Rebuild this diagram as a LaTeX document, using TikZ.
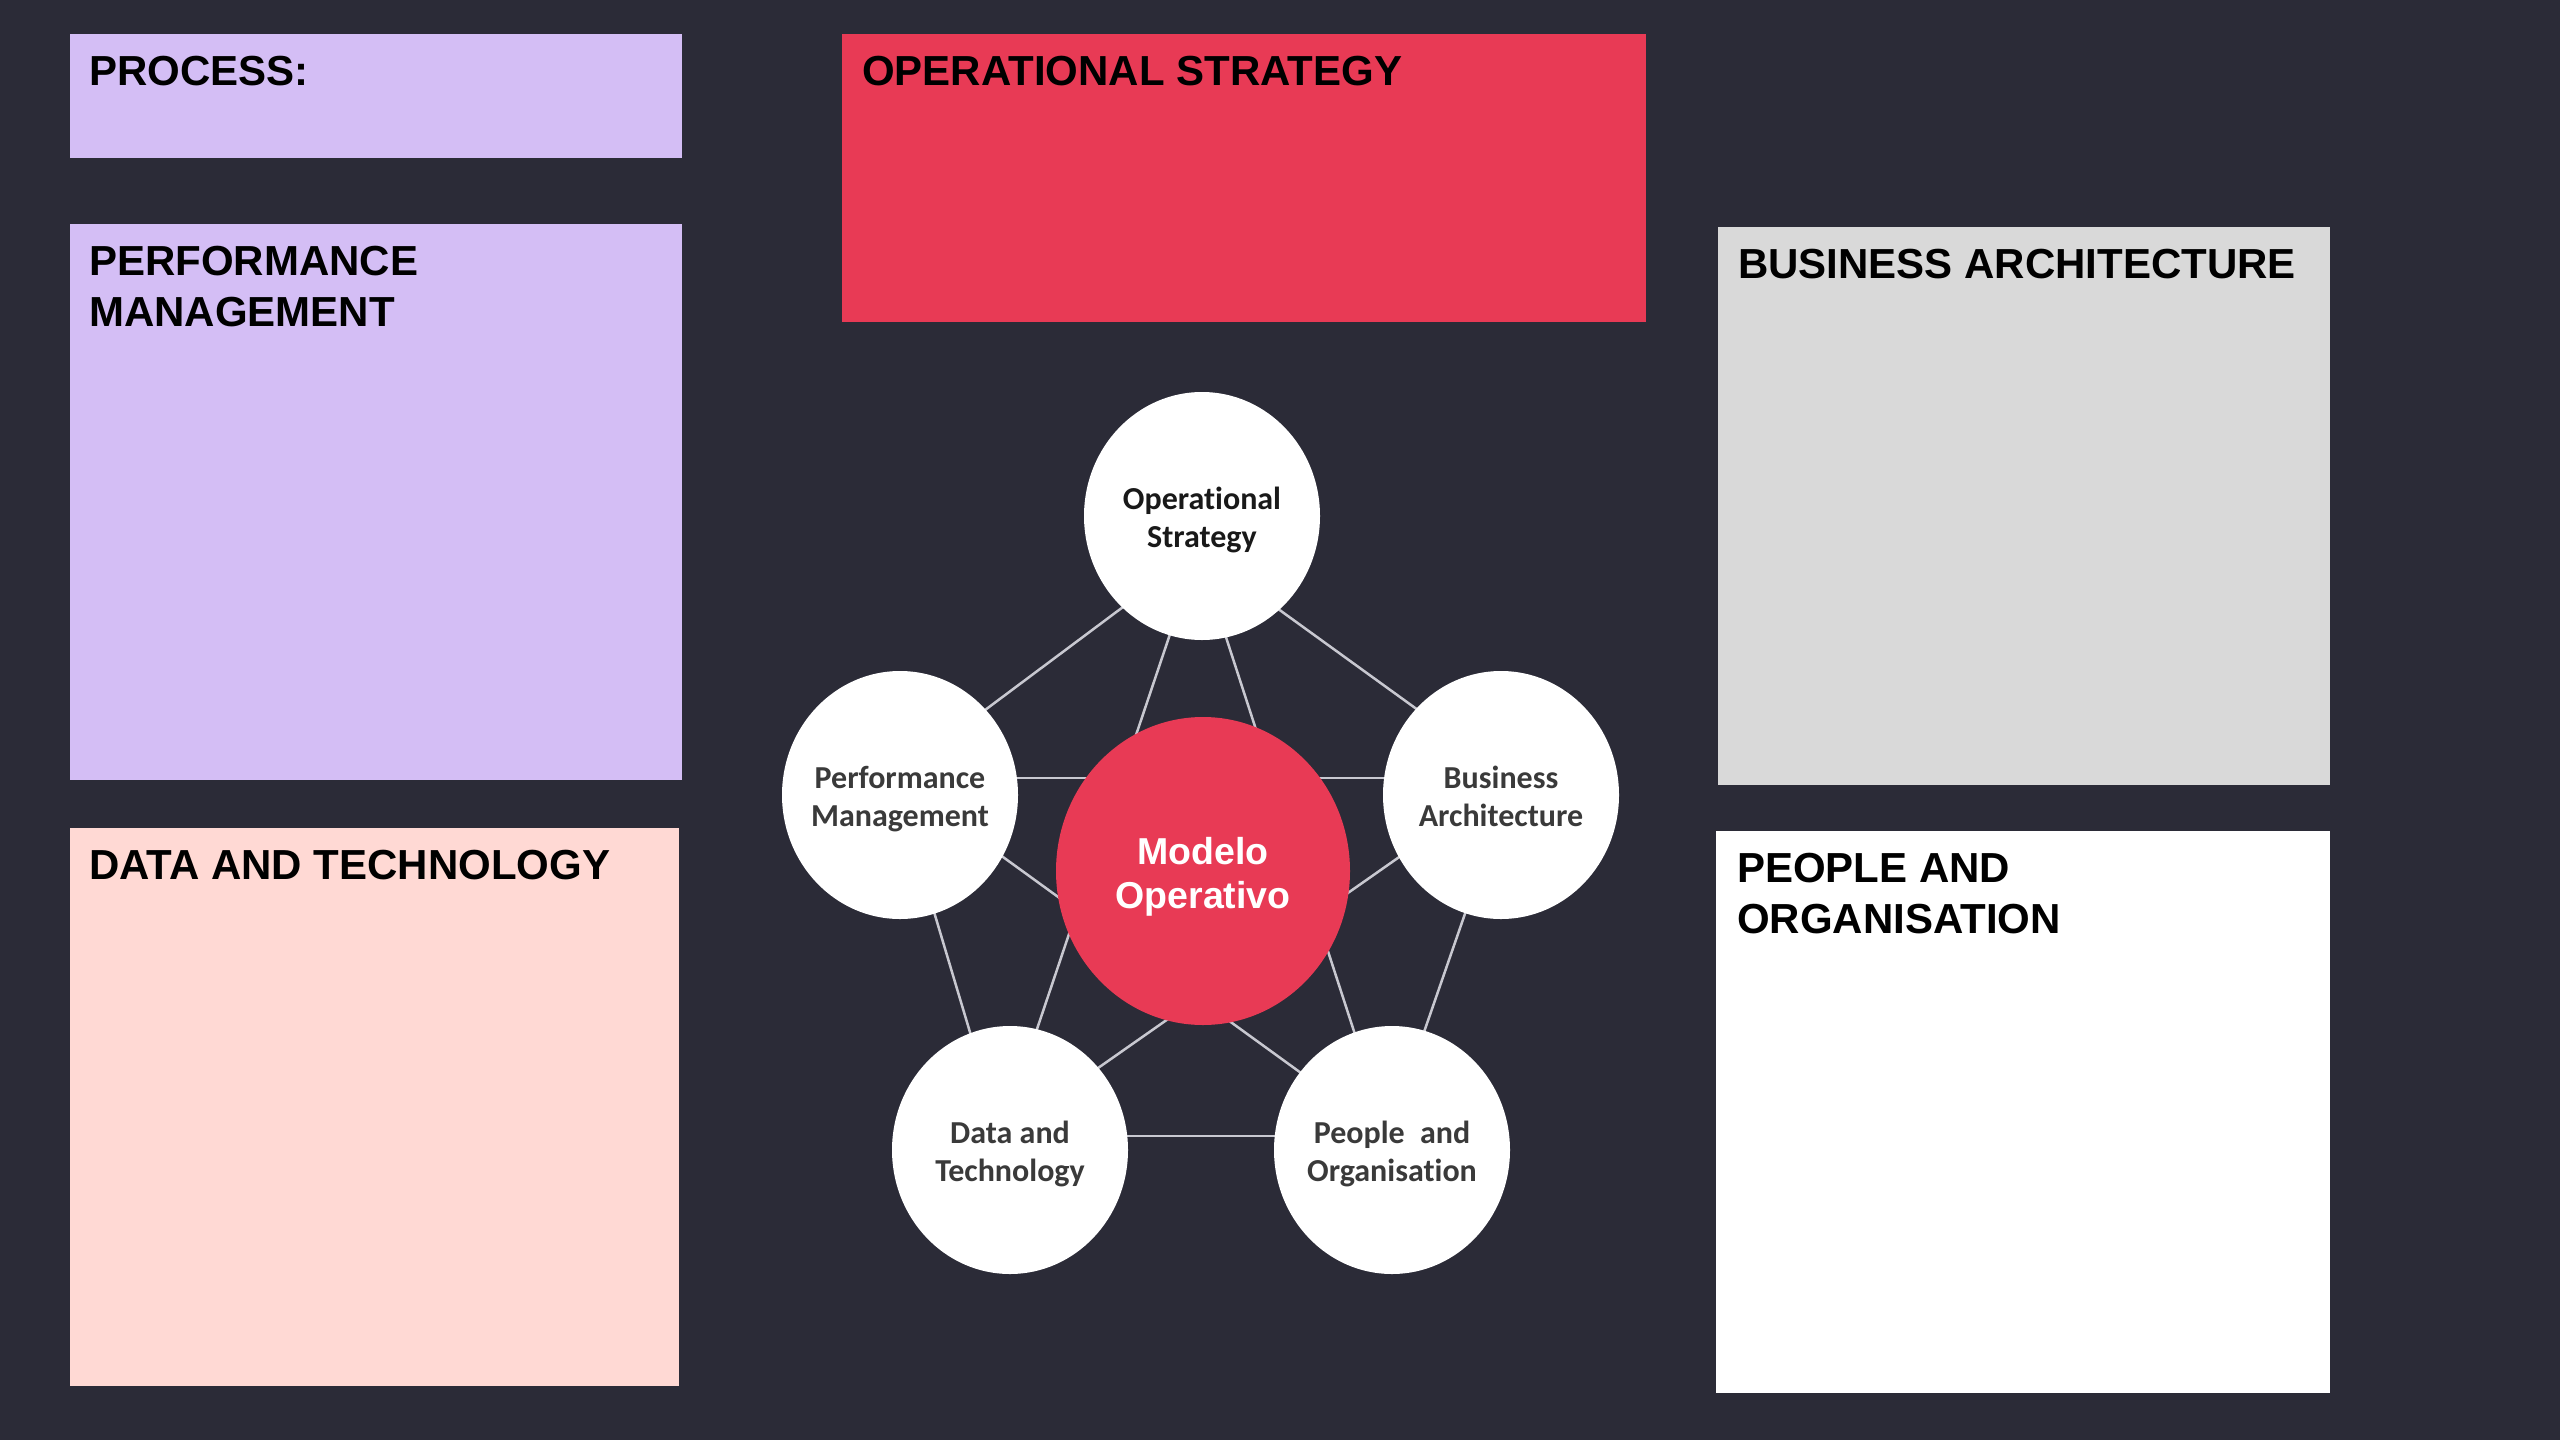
\documentclass[tikz,border=0pt]{standalone}
\usepackage{fontspec}
\usetikzlibrary{shapes.geometric}
\newfontfamily\headfont{Liberation Sans}[BoldFont={Liberation Sans Bold}]
\newfontfamily\circfont{Carlito}[BoldFont={Carlito Bold}, Ligatures={NoCommon}]
\definecolor{bgc}{HTML}{2B2B37}
\definecolor{redc}{HTML}{E83A55}
\definecolor{purc}{HTML}{D4BEF5}
\definecolor{pinkc}{HTML}{FFD9D4}
\definecolor{grayc}{HTML}{D9D9D9}
\definecolor{linec}{HTML}{C8C8D0}
\definecolor{txtdark}{HTML}{3A3A3A}
\newcommand{\ctext}[2]{\raisebox{#1}[0pt][0pt]{\makebox[0pt][c]{\begin{tabular}[b]{@{}c@{}}#2\end{tabular}}}}
\tikzset{
  box/.style={rectangle, inner sep=0pt, anchor=north west, draw=none},
  head/.style={anchor=north west, inner sep=0pt, align=left, text=black,
    font=\headfont\bfseries\fontsize{42}{51}\selectfont},
  outer/.style={ellipse, fill=white, draw=none, inner sep=0pt,
    minimum width=236pt, minimum height=248pt, text=txtdark,
    font=\circfont\bfseries\fontsize{32}{38}\selectfont},
  core/.style={ellipse, fill=redc, draw=none, inner sep=0pt,
    minimum width=294pt, minimum height=308pt, text=white,
    font=\headfont\bfseries\fontsize{37.5}{44}\selectfont},
  link/.style={draw=linec, line width=2.5pt},
}
\begin{document}
\begin{tikzpicture}[x=1pt,y=-1pt]
\useasboundingbox (0,0) rectangle (2560,1440);
\fill[bgc] (0,0) rectangle (2560,1440);

% boxes
\node[box, fill=purc, minimum width=612pt, minimum height=124pt] (bproc) at (70,34) {};
\node[head] (hproc) at ([shift={(19,22)}]bproc.north west) {PROCESS:};
\node[box, fill=purc, minimum width=612pt, minimum height=556pt] (bperf) at (70,224) {};
\node[head] (hperf) at ([shift={(19,22)}]bperf.north west) {PERFORMANCE\\MANAGEMENT};
\node[box, fill=pinkc, minimum width=609pt, minimum height=558pt] (bdata) at (70,828) {};
\node[head] (hdata) at ([shift={(19,22)}]bdata.north west) {DATA AND TECHNOLOGY};
\node[box, fill=redc, minimum width=804pt, minimum height=288pt] (bops) at (842,34) {};
\node[head] (hops) at ([shift={(20,22)}]bops.north west) {OPERATIONAL STRATEGY};
\node[box, fill=grayc, minimum width=612pt, minimum height=558pt] (bbus) at (1718,227) {};
\node[head] (hbus) at ([shift={(20,22)}]bbus.north west) {BUSINESS ARCHITECTURE};
\node[box, fill=white, minimum width=614pt, minimum height=562pt] (bpeo) at (1716,831) {};
\node[head] (hpeo) at ([shift={(21,22)}]bpeo.north west) {PEOPLE AND\\ORGANISATION};

% connector vertices
\coordinate (vos) at (1198,551);
\coordinate (vpm) at (894,778);
\coordinate (vba) at (1512,778);
\coordinate (vdt) at (1001,1136);
\coordinate (vpo) at (1388,1136);

% pentagon and pentagram
\draw[link] (vos) -- (vpm);
\draw[link] (vos) -- (vba);
\draw[link] (vpm) -- (vdt);
\draw[link] (vba) -- (vpo);
\draw[link] (vdt) -- (vpo);
\draw[link] (vos) -- (vdt);
\draw[link] (vos) -- (vpo);
\draw[link] (vpm) -- (vba);
\draw[link] (vpm) -- (vpo);
\draw[link] (vba) -- (vdt);

% circles
\node[outer, text=black!90] (os) at (1202,516) {\ctext{-31pt}{Operational\\Strategy}};
\node[outer] (pm) at (900,795) {\ctext{-31pt}{Performance\\Management}};
\node[outer] (ba) at (1501,795) {\ctext{-31pt}{Business\\Architecture}};
\node[outer] (dt) at (1010,1150) {\ctext{-31pt}{Data and\\Technology}};
\node[outer] (po) at (1392,1150) {\ctext{-31pt}{People\hspace{0.25em} and\\Organisation}};
\node[core] (mo) at (1203,871) {\ctext{-37pt}{Modelo\\Operativo}};
\end{tikzpicture}
\end{document}
